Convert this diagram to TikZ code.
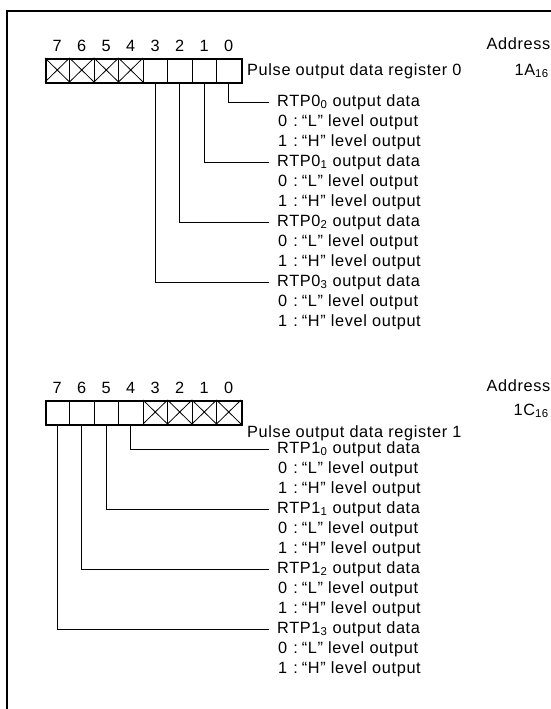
\documentclass[tikz,border=0pt]{standalone}
\usepackage{fontspec}
\setmainfont{Liberation Sans}[LetterSpace=4]
\begin{document}
\begin{tikzpicture}[x=1pt,y=-1pt,
  txt/.style={font=\fontsize{16.3}{18}\selectfont, inner sep=1pt},
  lbl/.style={txt, anchor=west},
  thinline/.style={line width=0.8pt},
  leader/.style={line width=0.8pt, shorten >=7pt},
  frameline/.style={line width=1.8pt},
  regbox/.style={draw, line width=1.8pt, minimum width=196pt, minimum height=24pt, inner sep=0pt, anchor=north west}]
\useasboundingbox (0,0) rectangle (551,709);
% frame
\coordinate (fa) at (7,709);
\coordinate (fb) at (7,11);
\coordinate (fc) at (551,11);
\draw[frameline] (fa) -- (fb) -- (fc);

% ---------- register 0 ----------
\node[regbox] (reg0) at (45,58) {};
\foreach \i in {1,...,7} {
  \draw[thinline] (45+\i*24.5,58) -- (45+\i*24.5,82);
}
\foreach \i in {0,...,3} {
  \draw[thinline] (45+\i*24.5,58) -- (45+\i*24.5+24.5,82)
                  (45+\i*24.5,82) -- (45+\i*24.5+24.5,58);
}
\foreach \i [evaluate=\i as \b using int(7-\i)] in {0,...,7} {
  \node[txt] (ra\i) at (45+12.25+\i*24.5,46) {\b};
}
\node[lbl] (reg0lbl) at (246,71) {Pulse output data register 0};
\node[txt, anchor=east, inner sep=0.5pt] (addr0) at (551,44) {Address};
\node[txt, anchor=east] (addr0v) at (550,71) {1A\textsubscript{16}};

\foreach \k in {0,...,3} {
  \node[lbl] (h0\k) at (276,102+60*\k) {RTP0\textsubscript{\k} output data};
  \node[lbl] (l0\k) at (277,122+60*\k) {0\hspace{6pt}:\hspace{4pt}“L” level output};
  \node[lbl] (m0\k) at (277,142+60*\k) {1\hspace{6pt}:\hspace{4pt}“H” level output};
  \coordinate (c0\k) at (45+12.25+7*24.5-\k*24.5,82);
  \draw[leader] (c0\k) |- (h0\k.west);
}

% ---------- register 1 ----------
\node[regbox] (reg1) at (45,400) {};
\foreach \i in {1,...,7} {
  \draw[thinline] (45+\i*24.5,400) -- (45+\i*24.5,424);
}
\foreach \i in {4,...,7} {
  \draw[thinline] (45+\i*24.5,400) -- (45+\i*24.5+24.5,424)
                  (45+\i*24.5,424) -- (45+\i*24.5+24.5,400);
}
\foreach \i [evaluate=\i as \b using int(7-\i)] in {0,...,7} {
  \node[txt] (rb\i) at (45+12.25+\i*24.5,388) {\b};
}
\node[lbl] (reg1lbl) at (246,433) {Pulse output data register 1};
\node[txt, anchor=east, inner sep=0.5pt] (addr1) at (551,386) {Address};
\node[txt, anchor=east] (addr1v) at (550,411) {1C\textsubscript{16}};

\foreach \k in {0,...,3} {
  \node[lbl] (h1\k) at (276,449+60*\k) {RTP1\textsubscript{\k} output data};
  \node[lbl] (l1\k) at (277,469+60*\k) {0\hspace{6pt}:\hspace{4pt}“L” level output};
  \node[lbl] (m1\k) at (277,489+60*\k) {1\hspace{6pt}:\hspace{4pt}“H” level output};
  \coordinate (c1\k) at (45+12.25+3*24.5-\k*24.5,424);
  \draw[leader] (c1\k) |- (h1\k.west);
}
\end{tikzpicture}
\end{document}
